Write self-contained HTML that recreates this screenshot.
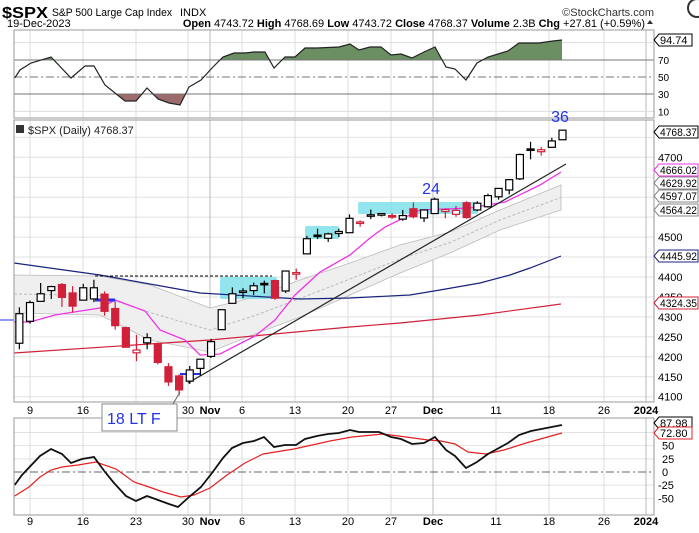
<!DOCTYPE html>
<html><head><meta charset="utf-8"><style>
body{margin:0;background:#fff;width:699px;height:528px;overflow:hidden;font-family:"Liberation Sans",sans-serif}
svg text{font-family:"Liberation Sans",sans-serif}
</style></head><body>
<svg id="s" width="699" height="528" xmlns="http://www.w3.org/2000/svg"></svg>
<script>
const S=document.getElementById('s');let h='';
const X=i=>30+i*10.65, Y=p=>396.7-(p-4100)*0.399;
const L=14,R=654;
h+=`<text x="2" y="18" font-size="16" font-weight="bold" textLength="46" lengthAdjust="spacingAndGlyphs">$SPX</text><text x="52" y="16" font-size="11" textLength="120" lengthAdjust="spacingAndGlyphs">S&amp;P 500 Large Cap Index</text><text x="180" y="16" font-size="11">INDX</text>`;
h+=`<text x="654" y="16" font-size="11" text-anchor="end" fill="#333">©StockCharts.com</text><circle cx="697" cy="8" r="9" fill="none" stroke="#333" stroke-width="2"/>`;
h+=`<text x="7" y="27" font-size="11">19-Dec-2023</text>`;
h+=`<text x="645" y="27" font-size="11" text-anchor="end"><tspan font-weight="bold">Open</tspan> 4743.72 <tspan font-weight="bold">High</tspan> 4768.69 <tspan font-weight="bold">Low</tspan> 4743.72 <tspan font-weight="bold">Close</tspan> 4768.37 <tspan font-weight="bold">Volume</tspan> 2.3B <tspan font-weight="bold">Chg</tspan> +27.81 (+0.59%)</text><path d="M647 24l3-4 3 4z" fill="#333"/>`;
const weeks=[[30,'9'],[83,'16'],[136,'23'],[188,'30'],[242,'6'],[295,'13'],[348,'20'],[391,'27'],[496,'11'],[549,'18'],[604,'26']];
const months=[[210,'Nov'],[433,'Dec'],[646,'2024']];
function vgrid(y1,y2){let s='';weeks.forEach(w=>s+=`<line x1="${w[0]}" x2="${w[0]}" y1="${y1}" y2="${y2}" stroke="#ddd"/>`);months.forEach(m=>s+=`<line x1="${m[0]}" x2="${m[0]}" y1="${y1}" y2="${y2}" stroke="#bbb"/>`);return s;}
function xlabels(y){let s='';weeks.forEach(w=>s+=`<text x="${w[0]}" y="${y}" font-size="11" text-anchor="middle">${w[1]}</text>`);months.forEach(m=>s+=`<text x="${m[0]}" y="${y}" font-size="11" font-weight="bold" text-anchor="middle">${m[1]}</text>`);return s;}
function pl(pts){return pts.map(p=>p.join(',')).join(' ');}
const ry=v=>77-(v-50)*0.86;
h+=vgrid(30,118);
[10,30,50,70,90].forEach(v=>{h+=`<text x="658" y="${ry(v)+4}" font-size="10">${v}</text>`;});
h+=`<line x1="${L}" x2="${R}" y1="${ry(90)}" y2="${ry(90)}" stroke="#ddd"/><line x1="${L}" x2="${R}" y1="${ry(10)}" y2="${ry(10)}" stroke="#ddd"/>`;
const rsi=[[14.7,78],[20,70],[31,63],[51,57],[71,78],[85,66],[94,66],[105,85],[125,101],[136,101],[147,88],[158,99],[169,103],[180,105],[189,87],[201,80],[212,68],[223,57],[234,53],[245,53],[254,52],[265,52],[274,68],[285,57],[295,57],[305,48],[317,48],[339,47],[350,44],[359,50],[370,47],[381,47],[391,55],[401,54],[412,58],[424,52],[435,47],[446,67],[455,69],[466,80],[477,63],[488,57],[508,51],[519,43],[539,43],[553,41],[562,40]];
h+=`<defs><clipPath id="cg"><rect x="0" y="0" width="699" height="60"/></clipPath><clipPath id="cr"><rect x="0" y="94" width="699" height="40"/></clipPath></defs>`;
h+=`<polygon clip-path="url(#cg)" points="14.7,60 ${pl(rsi)} 562,60" fill="#6b8f62"/>`;
h+=`<polygon clip-path="url(#cr)" points="14.7,94 ${pl(rsi)} 562,94" fill="#9c6b6b"/>`;
h+=`<line x1="${L}" x2="${R}" y1="60" y2="60" stroke="#777"/><line x1="${L}" x2="${R}" y1="94" y2="94" stroke="#777"/><line x1="${L}" x2="${R}" y1="77" y2="77" stroke="#777" stroke-dasharray="8,3,2,3"/>`;
h+=`<polyline points="${pl(rsi)}" fill="none" stroke="#222" stroke-width="1.2"/>`;
h+=`<rect x="${L}" y="30" width="${R-L}" height="88" fill="none" stroke="#999"/>`;
function tag(y,t,c){const tl=t.length>5?' textLength="37" lengthAdjust="spacingAndGlyphs"':'';const w=t.length>5?39:33;h+=`<path d="M654 ${y}l5-6h${w}v12h-${w}z" fill="#fff" stroke="${c}"/><text x="660" y="${y+4}" font-size="11" fill="#000"${tl}>${t}</text>`;}
tag(40,'94.74','#000');
for(let p=4100;p<=4750;p+=50){h+=`<line x1="${L}" x2="${R}" y1="${Y(p)}" y2="${Y(p)}" stroke="#e2e2e2"/>`;}
h+=vgrid(120,402);
[4700,4500,4400,4350,4300,4250,4200,4150,4100].forEach(p=>h+=`<text x="658" y="${Y(p)+4}" font-size="11">${p}</text>`);
const up=[[14,275],[100,276],[150,285],[210,308],[255,297],[300,280],[350,263],[400,245],[450,232],[500,210],[561,185]];
const lo=[[14,313],[100,315],[150,340],[210,352],[255,334],[300,317],[350,295],[400,273],[450,253],[500,230],[561,210]];
h+=`<polygon points="${pl(up)} ${pl(lo.slice().reverse())}" fill="#efefef" stroke="#bbb" stroke-width="0.8"/>`;
const mid=up.map((p,i)=>[p[0],(p[1]+lo[i][1])/2]);
h+=`<polyline points="${pl(mid)}" fill="none" stroke="#bbb" stroke-dasharray="3,2"/>`;
h+=`<rect x="220" y="277" width="57" height="22" fill="#7fe0ea" opacity="0.85" rx="2"/><rect x="305" y="226" width="34" height="13" fill="#7fe0ea" opacity="0.85" rx="2"/><rect x="358" y="202" width="120" height="12" fill="#7fe0ea" opacity="0.85" rx="2"/>`;
h+=`<polyline points="14,353 210,340 350,327 400,323 480,315 561,304" fill="none" stroke="#d0203a" stroke-width="1.2"/>`;
h+=`<polyline points="14,263 100,275 200,293 300,299 350,298 410,295 440,290 480,283 510,275 530,268 561,256" fill="none" stroke="#1a237e" stroke-width="1.2"/>`;
h+=`<polyline points="14,322 30,322 55,315 100,308 115,300 145,311 160,330 185,340 200,355 220,354 255,336 275,320 295,295 320,272 350,255 370,238 385,227 420,210 470,208 505,202 540,185 561,172" fill="none" stroke="#f032e6" stroke-width="1.3"/>`;
h+=`<line x1="188" y1="383" x2="566" y2="164" stroke="#222" stroke-width="1.2"/>`;
h+=`<line x1="95" y1="276" x2="272" y2="276" stroke="#000" stroke-dasharray="3,2"/>`;
h+=`<line x1="95" y1="300" x2="115" y2="300" stroke="#2233ee" stroke-width="3"/><line x1="180" y1="374" x2="200" y2="374" stroke="#2233ee" stroke-width="2"/><line x1="0" y1="320" x2="14" y2="320" stroke="#2233ee"/>`;
const d=[[-1,4234,4324,4219,4308],[0,4289,4341,4283,4336],[1,4339,4385,4339,4358],[2,4366,4378,4345,4376],[3,4381,4385,4325,4349],[4,4360,4377,4311,4327],[5,4342,4383,4342,4373],[6,4345,4393,4337,4373],[7,4357,4364,4303,4314],[8,4321,4339,4268,4278],[9,4273,4276,4223,4224],[10,4210,4255,4189,4217],[11,4235,4259,4219,4248],[12,4233,4236,4181,4186],[13,4175,4184,4127,4137],[14,4152,4156,4103,4117],[15,4139,4177,4132,4167],[16,4171,4194,4153,4194],[17,4201,4245,4197,4238],[18,4268,4319,4268,4318],[19,4334,4374,4334,4358],[20,4365,4372,4347,4365],[21,4366,4386,4355,4378],[22,4384,4391,4359,4383],[23,4391,4393,4343,4347],[24,4365,4415,4360,4415],[25,4407,4421,4393,4411],[26,4458,4503,4458,4496],[27,4505,4521,4495,4502],[28,4497,4511,4488,4508],[29,4509,4521,4500,4514],[30,4511,4557,4511,4547],[31,4538,4542,4526,4538],[32,4553,4569,4545,4556],[33,4555,4560,4552,4559],[34,4554,4560,4546,4550],[35,4545,4568,4541,4554],[36,4571,4587,4547,4551],[37,4548,4569,4538,4568],[38,4559,4599,4558,4595],[39,4564,4572,4547,4569],[40,4557,4578,4551,4567],[41,4586,4590,4546,4549],[42,4568,4590,4565,4585],[43,4576,4609,4574,4604],[44,4601,4623,4594,4622],[45,4618,4644,4607,4644],[46,4646,4709,4643,4707],[47,4721,4739,4695,4720],[48,4714,4726,4704,4719],[49,4725,4749,4725,4741],[50,4744,4769,4744,4768]];
let prev=4258;
d.forEach(c=>{const [i,o,hi,l,cl]=c;const x=X(i);const col=cl>=prev?'#000':'#d0203a';const top=Y(Math.max(o,cl)),bot=Y(Math.min(o,cl));const bh=Math.max(bot-top,1.5);
h+=`<line x1="${x}" x2="${x}" y1="${Y(hi)}" y2="${Y(l)}" stroke="${col}" stroke-width="1.2"/>`;
h+=`<rect x="${x-3.5}" y="${top}" width="7" height="${bh}" fill="${cl<o?col:'#fff'}" stroke="${col}" stroke-width="1.2"/>`;prev=cl;});
h+=`<rect x="${L}" y="120" width="${R-L}" height="282" fill="none" stroke="#999"/>`;
h+=`<rect x="16" y="125" width="8" height="8" fill="#333"/><text x="28" y="134" font-size="11" fill="#222">$SPX (Daily) 4768.37</text>`;
h+=`<text x="431" y="194" font-size="16" fill="#2233ee" text-anchor="middle">24</text><text x="560" y="122" font-size="16" fill="#2233ee" text-anchor="middle">36</text>`;
tag(132,'4768.37','#000');tag(170,'4666.02','#f032e6');tag(183,'4629.92','#888');tag(196,'4597.07','#888');tag(210,'4564.22','#888');tag(256,'4445.92','#1a237e');tag(303,'4324.35','#d0203a');
h+=xlabels(414);
const by=v=>472-v*0.527;
[75,50,25,-25,-50].forEach(v=>h+=`<line x1="${L}" x2="${R}" y1="${by(v)}" y2="${by(v)}" stroke="#e2e2e2"/>`);
h+=vgrid(418,515);
[50,25,0,-25,-50].forEach(v=>h+=`<text x="${v<0?658:662}" y="${by(v)+4}" font-size="11">${v}</text>`);
h+=`<line x1="${L}" x2="${R}" y1="472" y2="472" stroke="#666" stroke-dasharray="8,3,2,3"/>`;
h+=`<polyline points="14.7,496 29,487 40,477 51,470 62,467 78,465 96,462 116,469 134,482 149,487 163,492 181,497 194,495 210,488 227,475 245,463 263,454 294,449 330,441 352,437 383,434 406,437 428,440 441,441 455,444 468,452 486,454 504,450 526,443 562,433" fill="none" stroke="#e52020" stroke-width="1.2"/>`;
h+=`<polyline points="14.7,485 22,475 40,456 51,449 62,454 71,463 82,459 94,457 105,472 114,483 126,496 136,501 147,496 158,500 169,504 178,507 189,497 201,487 212,473 223,458 232,448 243,443 254,441 264,437 274,447 285,445 296,445 305,439 317,436 328,434 339,433 350,430 359,432 379,432 391,437 401,439 412,444 424,443 435,437 446,450 455,456 466,468 477,462 488,454 508,443 519,435 531,431 562,425" fill="none" stroke="#111" stroke-width="1.8"/>`;
h+=`<rect x="${L}" y="418" width="${R-L}" height="97" fill="none" stroke="#999"/>`;
tag(423,'87.98','#000');tag(433,'72.80','#e52020');
h+=xlabels(525);
h+=`<line x1="173" y1="404" x2="180" y2="392" stroke="#666"/><rect x="102" y="404" width="75" height="27" fill="#fff" stroke="#888"/><text x="107" y="424" font-size="16" fill="#2233ee">18 LT F</text>`;
S.innerHTML=h;
</script>
</body></html>
